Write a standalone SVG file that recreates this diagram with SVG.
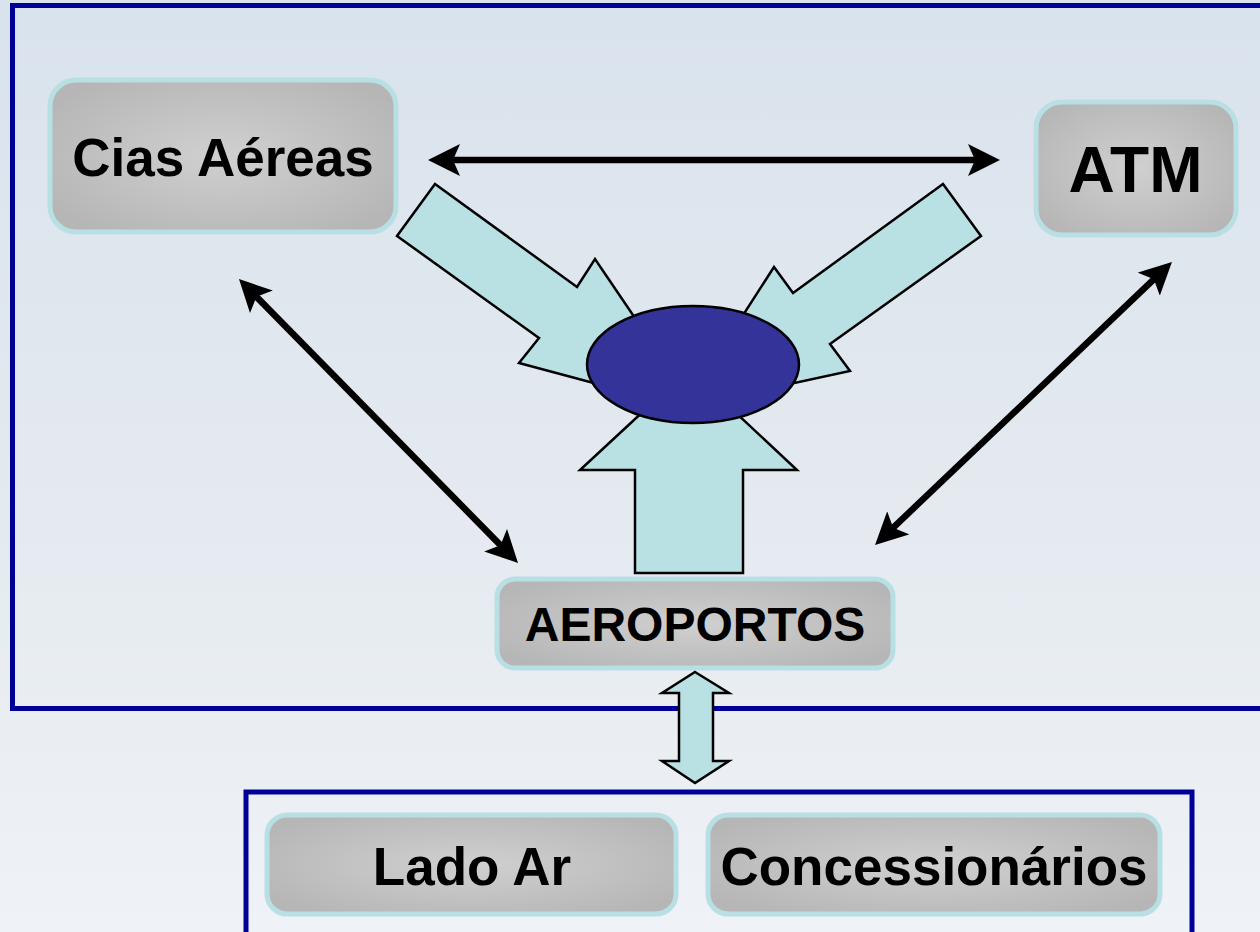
<svg xmlns="http://www.w3.org/2000/svg" width="1260" height="932" viewBox="0 0 1260 932">
  <defs>
    <linearGradient id="bg" x1="0" y1="0" x2="0" y2="1">
      <stop offset="0" stop-color="#d9e3ed"/>
      <stop offset="0.5" stop-color="#e3e9ef"/>
      <stop offset="1" stop-color="#eff2f6"/>
    </linearGradient>
    <radialGradient id="nodefill" cx="0.5" cy="0.5" r="0.6">
      <stop offset="0" stop-color="#d0d0d0"/>
      <stop offset="1" stop-color="#b6b6b6"/>
    </radialGradient>
    <marker id="head" viewBox="0 0 32 32" markerWidth="32" markerHeight="32" refX="9" refY="16" markerUnits="userSpaceOnUse" orient="auto-start-reverse">
      <path d="M0,0 L32,16 L0,32 L7,16 Z" fill="#000"/>
    </marker>
  </defs>
  <style>
    .frame { fill: none; stroke: #000099; stroke-width: 5; }
    .node rect { fill: url(#nodefill); stroke: #b8e0e4; stroke-width: 5; }
    .node text { font-family: "Liberation Sans", Arial, sans-serif; font-weight: bold; fill: #000; text-anchor: middle; }
    .block { fill: #b9e0e3; stroke: #000; stroke-width: 2.5; stroke-linejoin: miter; }
    .link { stroke: #000; stroke-width: 6.5; marker-start: url(#head); marker-end: url(#head); }
  </style>

  <rect x="0" y="0" width="1260" height="932" fill="url(#bg)"/>

  <rect class="frame" x="12.5" y="5.5" width="1300" height="703"/>
  <rect class="frame" x="246" y="792" width="946" height="200"/>

  <g id="block-arrows">
    <polygon class="block" points="435,184 577,287 595,259 698,411 519,363 539,338 397,236"/>
    <polygon class="block" points="943,184 793,293 774,267 684,407 850,371 830,344 981,236"/>
    <polygon class="block" points="635,573 635,470 580,470 689,369 797,470 743,470 743,573"/>
  </g>

  <g id="hub">
    <ellipse cx="693" cy="364.5" rx="106" ry="58.5" fill="#333399" stroke="#000" stroke-width="2.5"/>
  </g>

  <g id="connectors">
    <line class="link" x1="451" y1="160" x2="977" y2="160"/>
    <line class="link" x1="255.1" y1="295.4" x2="501.9" y2="546.6" stroke-width="8"/>
    <line class="link" x1="1155.3" y1="277.9" x2="891.7" y2="529.1" stroke-width="8"/>
  </g>

  <g id="cias-aereas" class="node">
    <rect x="50" y="80" width="346" height="152" rx="26" ry="26"/>
    <text x="223" y="176" font-size="53">Cias Aéreas</text>
  </g>

  <g id="atm" class="node">
    <rect x="1036" y="102" width="200" height="133" rx="26" ry="26"/>
    <text x="1135.5" y="192" font-size="64">ATM</text>
  </g>

  <g id="aeroportos" class="node">
    <rect x="497" y="579" width="396" height="89" rx="18" ry="18"/>
    <text x="695" y="641" font-size="48">AEROPORTOS</text>
  </g>

  <g id="lado-ar" class="node">
    <rect x="267" y="815" width="409" height="99" rx="20" ry="20"/>
    <text x="472" y="885" font-size="53">Lado Ar</text>
  </g>

  <g id="concessionarios" class="node">
    <rect x="708" y="815" width="452" height="99" rx="20" ry="20"/>
    <text x="934" y="885" font-size="53">Concessionários</text>
  </g>

  <g id="link-aeroportos-bottom">
    <polygon class="block" points="695,672 729,693 713,693 713,761 729,761 695,783 662,761 679,761 679,693 662,693"/>
  </g>
</svg>
